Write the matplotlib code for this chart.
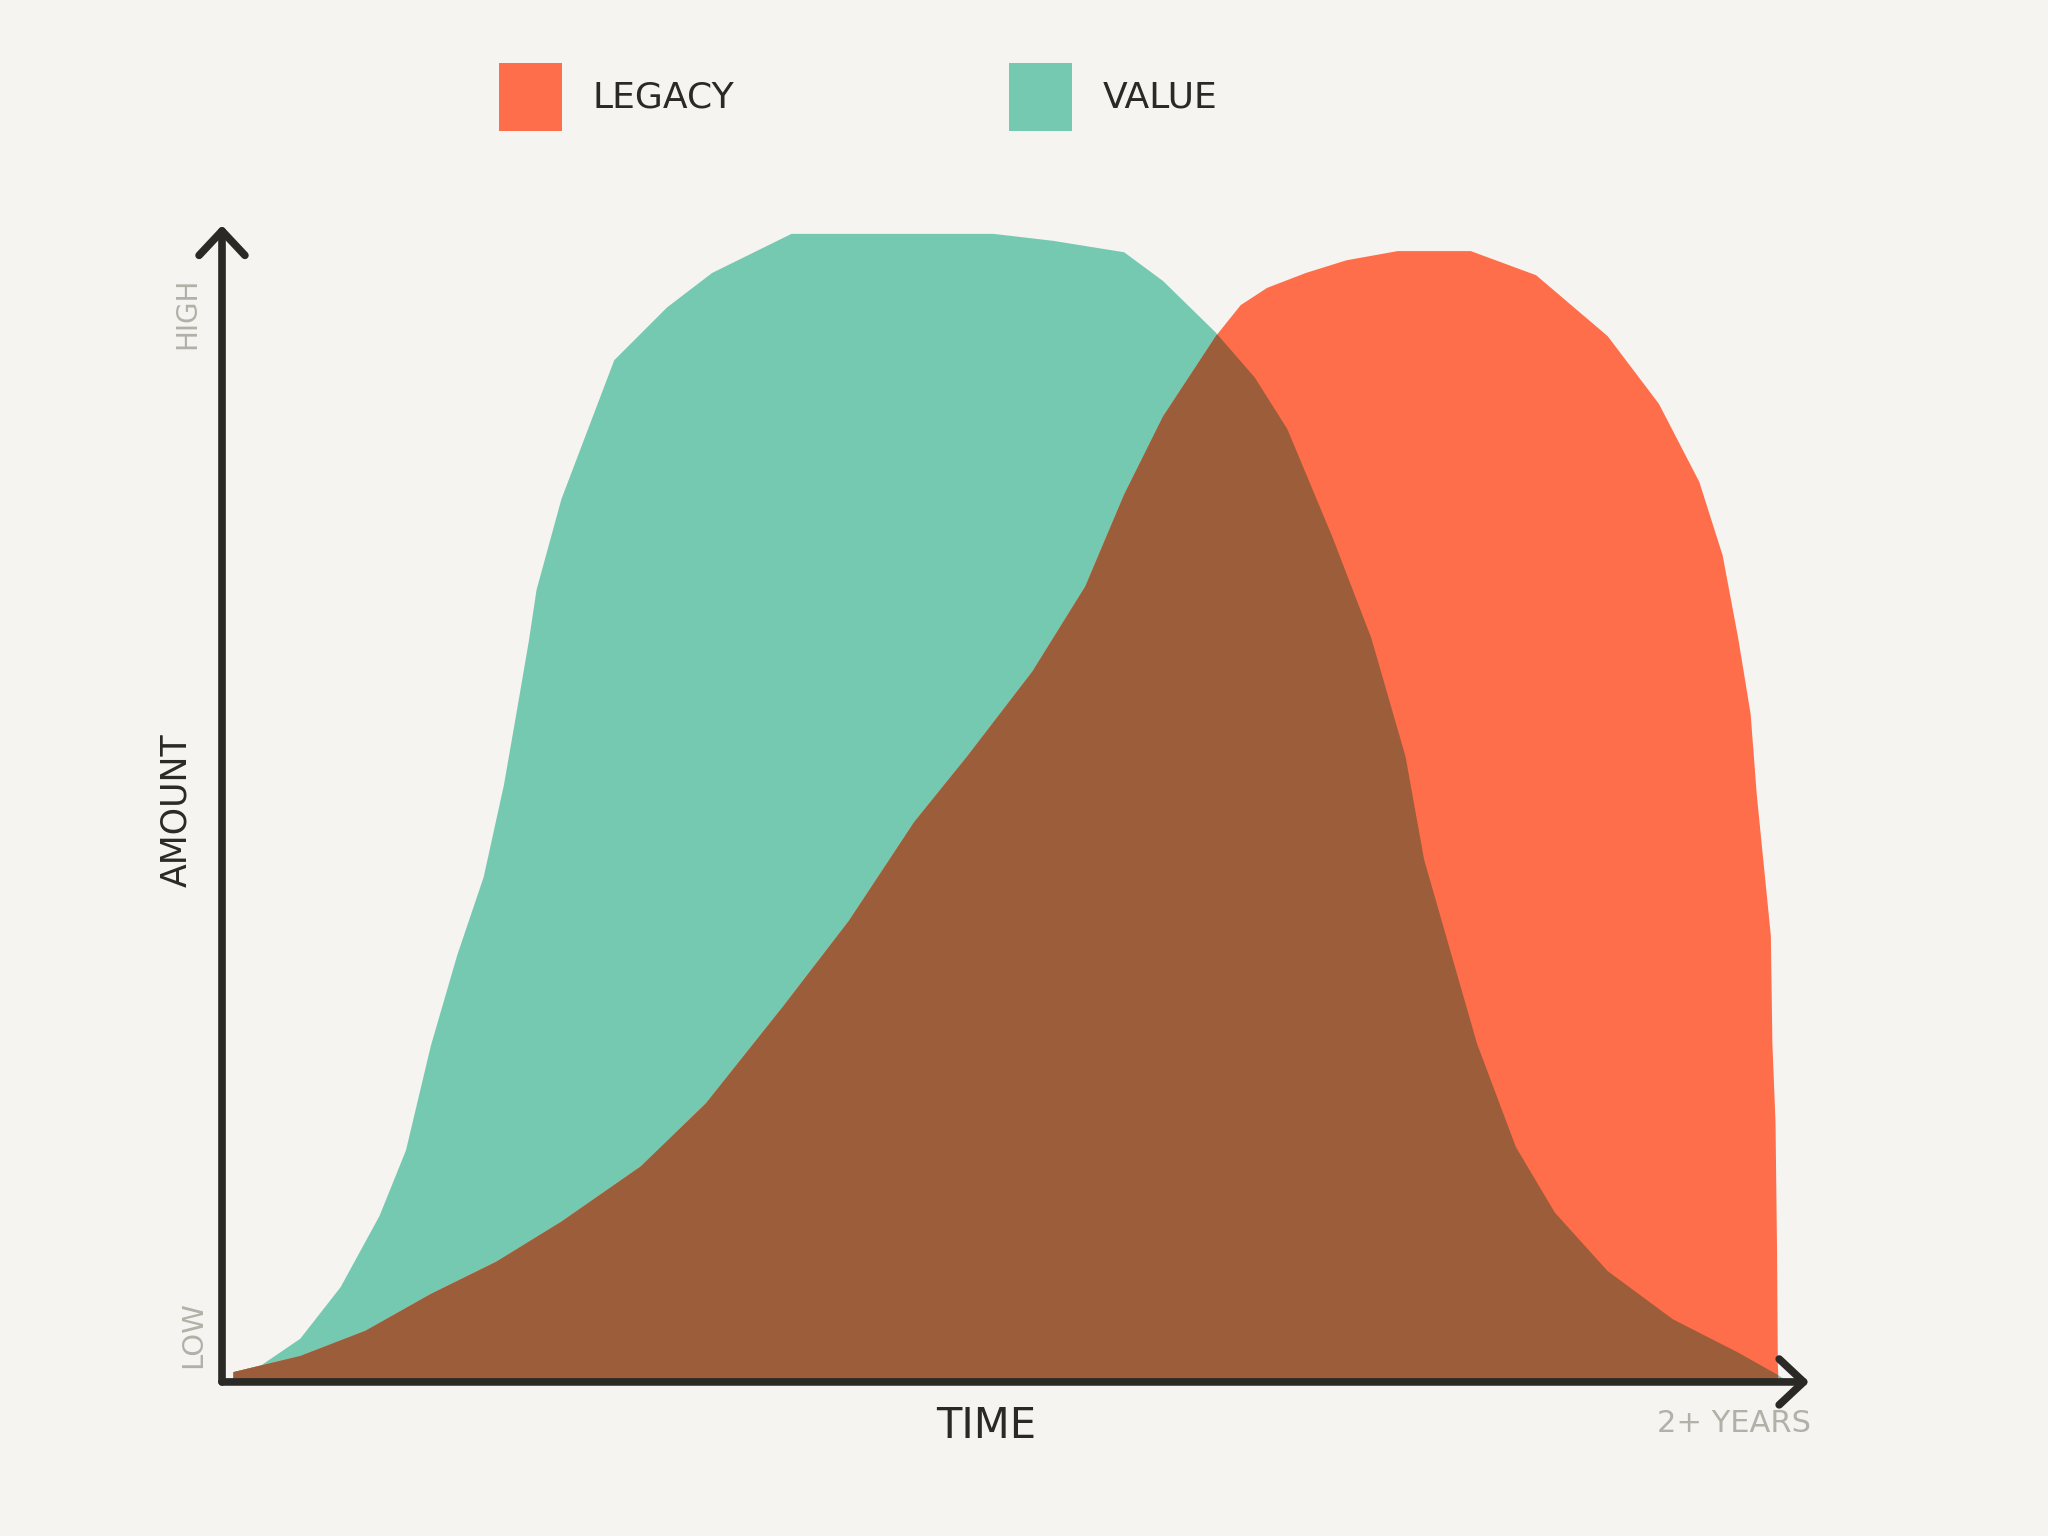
import numpy as np
import matplotlib
matplotlib.use('Agg')
from matplotlib import pyplot as plt
from matplotlib.patches import Patch

# time as % of the ~2 year span, amount as % of the peak
value_x = [0.7, 2.5, 5.0, 7.6, 10.1, 11.8, 13.4, 15.1, 16.8, 18.1, 18.9, 19.7, 20.2, 21.8,
           25.2, 28.6, 31.5, 36.6, 49.6, 53.4, 58.0, 60.5, 63.9, 66.4, 68.5, 71.4, 73.9,
           76.1, 77.3, 79.0, 80.7, 83.2, 85.7, 89.1, 93.3, 97.5, 100.0, 100.8]
value_y = [0.9, 1.5, 3.8, 8.3, 14.5, 20.2, 29.3, 37.2, 44.0, 52.0, 58.2, 64.5, 69.0, 76.9,
           89.0, 93.6, 96.6, 100.0, 100.0, 99.4, 98.4, 95.9, 91.4, 87.5, 83.0, 73.6, 64.8,
           54.5, 45.5, 37.5, 29.5, 20.5, 14.8, 9.7, 5.5, 2.6, 0.7, 0.0]

legacy_x = [0.7, 5.0, 9.2, 13.4, 17.6, 21.8, 26.9, 31.1, 36.1, 40.3, 44.5, 47.9, 52.1, 55.5,
            58.0, 60.5, 63.9, 65.5, 67.2, 69.7, 72.3, 75.6, 80.3, 84.5, 89.1, 92.4, 95.0,
            96.5, 97.5, 98.3, 98.7, 99.6, 99.7, 99.9, 100.0, 100.05, 100.1]
legacy_y = [0.9, 2.3, 4.5, 7.7, 10.5, 14.0, 18.8, 24.3, 32.8, 40.2, 48.8, 54.5, 61.9, 69.3,
            77.3, 84.1, 91.1, 93.8, 95.3, 96.6, 97.7, 98.5, 98.5, 96.4, 91.1, 85.2, 78.4,
            72.0, 64.8, 58.2, 51.1, 38.9, 29.5, 22.7, 11.4, 1.5, 0.0]

labels = ['LEGACY', 'VALUE']

bg = '#f5f4f0'
orange = '#ff6e4a'
teal = '#76c9b1'
brown = '#9c5e3a'
ink = '#2a2926'
grey = '#b3b0a8'

fig = plt.figure(figsize=(20.48, 15.36), dpi=100, facecolor=bg)
ax = fig.add_axes([0.1084, 0.1003, 0.775, 0.753])
ax.set_facecolor(bg)

ax.fill_between(value_x, 0, value_y, color=teal, lw=0)
ax.fill_between(legacy_x, 0, legacy_y, color=orange, lw=0)

# overlap of the two areas
grid = np.linspace(0.7, 100.1, 2000)
overlap = np.minimum(np.interp(grid, value_x, value_y), np.interp(grid, legacy_x, legacy_y))
ax.fill_between(grid, 0, overlap, color=brown, lw=0)

ax.set_xlim(0, 102.1)
ax.set_ylim(0, 100.7)
for s in ax.spines.values():
    s.set_visible(False)
ax.set_xticks([])
ax.set_yticks([])

arrow = dict(arrowstyle='->, head_length=0.32, head_width=0.3', lw=5.5, color=ink,
             mutation_scale=55, shrinkA=0, shrinkB=0, capstyle='round', joinstyle='round')
ax.annotate('', xy=(102.1, 0), xytext=(0, 0), arrowprops=arrow, annotation_clip=False)
ax.annotate('', xy=(0, 100.7), xytext=(0, 0), arrowprops=arrow, annotation_clip=False)

fig.text(176 / 2048, 1 - 810 / 1536, 'AMOUNT', rotation=90, fontsize=25, color=ink,
         ha='center', va='center')
fig.text(187 / 2048, 1 - 313 / 1536, 'HIGH', rotation=90, fontsize=20, color=grey,
         ha='center', va='center')
fig.text(193 / 2048, 1 - 1335 / 1536, 'LOW', rotation=90, fontsize=21, color=grey,
         ha='center', va='center')
fig.text(986 / 2048, 1 - 1426 / 1536, 'TIME', fontsize=30, color=ink, ha='center', va='center')
fig.text(1734 / 2048, 1 - 1424 / 1536, '2+ YEARS', fontsize=22, color=grey,
         ha='center', va='center')

handles = [Patch(facecolor=orange, edgecolor='none'), Patch(facecolor=teal, edgecolor='none')]
fig.legend(handles, labels, loc='center', bbox_to_anchor=(0.419, 0.937), ncol=2,
           frameon=False, fontsize=26, handlelength=1.75, handleheight=2.5,
           handletextpad=0.85, columnspacing=7.6, labelcolor=ink)

fig.savefig('out.png', dpi=100, facecolor=bg)
